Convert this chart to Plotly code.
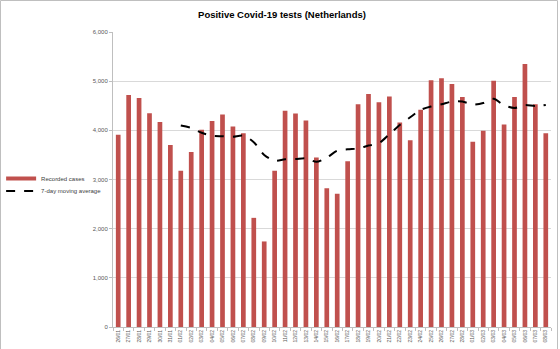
import plotly.graph_objects as go

dates = ["26/01", "27/01", "28/01", "29/01", "30/01", "31/01",
         "01/02", "02/02", "03/02", "04/02", "05/02", "06/02", "07/02", "08/02", "09/02", "10/02",
         "11/02", "12/02", "13/02", "14/02", "15/02", "16/02", "17/02", "18/02", "19/02", "20/02",
         "21/02", "22/02", "23/02", "24/02", "25/02", "26/02", "27/02", "28/02",
         "01/03", "02/03", "03/03", "04/03", "05/03", "06/03", "07/03", "08/03"]

recorded_cases = [3910, 4720, 4660, 4350, 4170, 3700,
                  3180, 3560, 4010, 4190, 4320, 4080, 3940, 2220, 1740, 3180,
                  4400, 4340, 4200, 3450, 2820, 2710, 3370, 4530, 4740, 4570,
                  4690, 4160, 3800, 4420, 5020, 5060, 4940, 4680,
                  3770, 3990, 5010, 4120, 4680, 5350, 4530, 3940]

moving_avg = [None, None, None, None, None, None,
              4100, 4050, 3950, 3890, 3880, 3870, 3890, 3760, 3500, 3380,
              3410, 3415, 3430, 3360, 3445, 3585, 3615, 3630, 3690, 3740,
              3920, 4110, 4265, 4415, 4485, 4530, 4585, 4585,
              4525, 4555, 4640, 4510, 4455, 4515, 4495, 4515]

W, H = 560, 349
L, R, T, B = 113, 9, 32, 22
pw = W - L - R
ph = H - T - B
BAR_COLOR = "#C0504D"

fig = go.Figure()
fig.add_trace(go.Bar(
    x=dates, y=recorded_cases, name="Recorded cases",
    marker=dict(color=BAR_COLOR, line=dict(width=0)), showlegend=False,
))
fig.add_trace(go.Scatter(
    x=dates, y=moving_avg, name="7-day moving average", mode="lines",
    line=dict(color="black", width=2, dash="dash", shape="spline", smoothing=0.8),
    connectgaps=False, legend="legend2",
))
# legend-only entry for the bars, drawn as a short thick red line like the original key
fig.add_trace(go.Scatter(
    x=[None], y=[None], name="Recorded cases", mode="lines",
    line=dict(color=BAR_COLOR, width=4), legend="legend",
))

border = dict(color="#BFBFBF", width=1)
shapes = [
    dict(type="line", xref="paper", yref="paper", x0=(0.5 - L) / pw, x1=(W - 2.5 - L) / pw,
         y0=(ph + T - 0.5) / ph, y1=(ph + T - 0.5) / ph, line=border),
    dict(type="line", xref="paper", yref="paper", x0=(0.5 - L) / pw, x1=(0.5 - L) / pw,
         y0=(ph + T - 0.5) / ph, y1=-B / ph, line=border),
    dict(type="line", xref="paper", yref="paper", x0=(W - 2.5 - L) / pw, x1=(W - 2.5 - L) / pw,
         y0=(ph + T - 0.5) / ph, y1=-B / ph, line=border),
]

legend_common = dict(xref="container", yref="container", xanchor="left", yanchor="middle",
                     font=dict(size=6, color="#404040"), itemwidth=30,
                     bgcolor="rgba(0,0,0,0)", borderwidth=0)

fig.update_layout(
    width=W, height=H,
    margin=dict(l=L, r=R, t=T, b=B, autoexpand=False),
    paper_bgcolor="white", plot_bgcolor="white",
    font=dict(family="Liberation Sans", color="#595959", size=6),
    title=dict(text="<b>Positive Covid-19 tests (Netherlands)</b>",
               x=282 / W, xref="container", xanchor="center",
               y=1 - 15 / H, yref="container", yanchor="middle",
               font=dict(family="Liberation Sans Narrow, Liberation Sans", size=9.5, color="black")),
    bargap=0.55,
    showlegend=True,
    legend=dict(x=0.002, y=1 - 178.5 / H, **legend_common),
    legend2=dict(x=0.002, y=1 - 191 / H, **legend_common),
    shapes=shapes,
)

fig.update_yaxes(range=[0, 6000], dtick=1000, tickformat=",", gridcolor="#D9D9D9",
                 gridwidth=1, showline=True, linecolor="#BFBFBF", ticks="outside",
                 ticklen=3, tickcolor="#BFBFBF", zeroline=False, automargin=False,
                 tickfont=dict(size=6, color="#595959"))
fig.update_xaxes(type="category", tickangle=-90, showline=True, linecolor="#BFBFBF",
                 ticks="outside", ticklen=3, tickcolor="#BFBFBF", tickson="boundaries",
                 automargin=False, tickfont=dict(size=5, color="#595959"), showgrid=False)

fig.write_html("out.html")
